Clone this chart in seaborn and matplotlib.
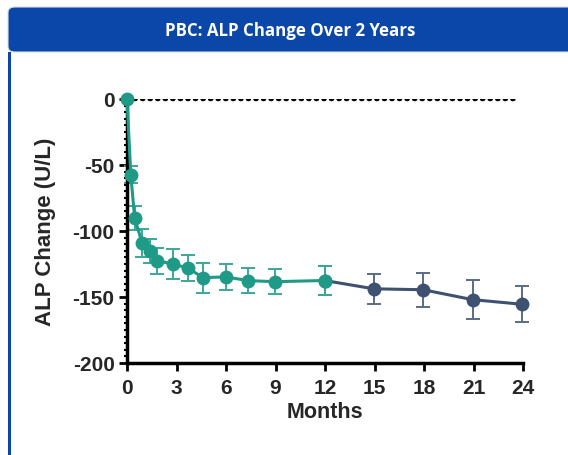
import numpy as np
import pandas as pd
import matplotlib
matplotlib.use("Agg")
import matplotlib.pyplot as plt
from matplotlib.patches import FancyBboxPatch, Rectangle
from matplotlib.ticker import MultipleLocator
import seaborn as sns

# Visit times (months) and mean ALP change with standard error
months = [0, 0.23, 0.46, 0.92, 1.38, 1.84, 2.76, 3.68, 4.6, 5.98, 7.36, 8.97,
          11.97, 14.96, 17.95, 20.94, 23.93]
alp_change = [0, -57.3, -89.9, -109.3, -114.9, -122.5, -125, -128, -135.3, -134.8,
              -137.6, -138.4, -137.5, -143.8, -144.5, -152, -155.5]
alp_se = [0, 6.2, 9, 10.7, 9, 10, 11, 9.6, 11.3, 10, 9.5, 9.5, 11, 11.3, 13, 15, 13.5]
phase = ["Year 1"] * 13 + ["Year 2"] * 4

x_ticks = [0, 3, 6, 9, 12, 15, 18, 21, 24]
y_ticks = [0, -50, -100, -150, -200]

title = "PBC: ALP Change Over 2 Years"
x_label = "Months"
y_label = "ALP Change (U/L)"

teal = "#1e9a86"
teal_bar = "#3aa898"
slate = "#3e5171"
slate_bar = "#5a6b86"
header_blue = "#0a47a8"

df = pd.DataFrame({"month": months, "change": alp_change, "se": alp_se, "phase": phase})
# second-year segment starts at the 12-month visit so the line is continuous
year1 = df[df.phase == "Year 1"]
year2 = pd.concat([df.iloc[[12]].assign(phase="Year 2"), df[df.phase == "Year 2"]])

sns.set_style("white")
plt.rcParams["font.family"] = ["Liberation Sans", "DejaVu Sans"]

fig = plt.figure(figsize=(5.68, 4.56), dpi=100)
W, H = 568, 456

# panel: thin frame, blue header bar, blue left border
fig.patches.append(Rectangle((8 / W, 0), 3 / W, 1 - 53 / H, transform=fig.transFigure,
                             facecolor=header_blue, edgecolor="none"))
fig.patches.append(FancyBboxPatch((8 / W, 1 - 53 / H), 1 - 8 / W + 0.05, 45 / H,
                                  boxstyle="round,pad=0,rounding_size=0.012",
                                  transform=fig.transFigure, facecolor=header_blue,
                                  edgecolor="#d9dde3", linewidth=0.8))
fig.text(290 / W, 1 - 31 / H, title, color="white", ha="center", va="center",
         fontsize=12.2, fontweight="bold", family=["Open Sans", "DejaVu Sans"])

ax = fig.add_axes([127 / W, 1 - 364 / H, 396 / W, 264 / H])

# dotted zero reference line
ax.axhline(0, xmin=0, xmax=0.985, color="black", linestyle=(0, (0.25, 1.45)),
           linewidth=3.2, dash_capstyle="round", zorder=1)

# second year drawn first so the 12-month point keeps the first-year colour
for seg, col, bar_col in [(year2, slate, slate_bar), (year1, teal, teal_bar)]:
    bars = seg[seg.se > 0]
    ax.errorbar(bars.month, bars.change, yerr=bars.se, fmt="none", ecolor=bar_col,
                elinewidth=1.4, capsize=5, capthick=1.4, zorder=2, clip_on=False)
    sns.lineplot(data=seg, x="month", y="change", ax=ax, color=col, linewidth=2.2,
                 marker="o", markersize=10, markeredgewidth=0, zorder=3,
                 clip_on=False, errorbar=None)

ax.set_xlim(0, 24)
ax.set_ylim(-200, 0)
ax.set_xticks(x_ticks)
ax.set_yticks(y_ticks)
ax.yaxis.set_minor_locator(MultipleLocator(5))
ax.set_xticklabels([str(t) for t in x_ticks], fontsize=15, fontweight="bold")
ax.set_yticklabels([str(t) for t in y_ticks], fontsize=15, fontweight="bold")
ax.tick_params(axis="both", which="major", direction="out", length=6, width=2,
               color="black", pad=3, bottom=True, left=True)
ax.tick_params(axis="x", which="major", pad=5)
ax.tick_params(axis="y", which="minor", direction="out", length=2.5, width=1.5,
               color="black", left=True)
for side in ["top", "right"]:
    ax.spines[side].set_visible(False)
for side in ["left", "bottom"]:
    ax.spines[side].set_linewidth(2.5)
    ax.spines[side].set_color("black")

ax.set_xlabel(x_label, fontsize=15.5, fontweight="bold", labelpad=3)
ax.set_ylabel(y_label, fontsize=16, fontweight="bold", labelpad=12)
ax.patch.set_alpha(0)

fig.savefig("out.png", dpi=100)
